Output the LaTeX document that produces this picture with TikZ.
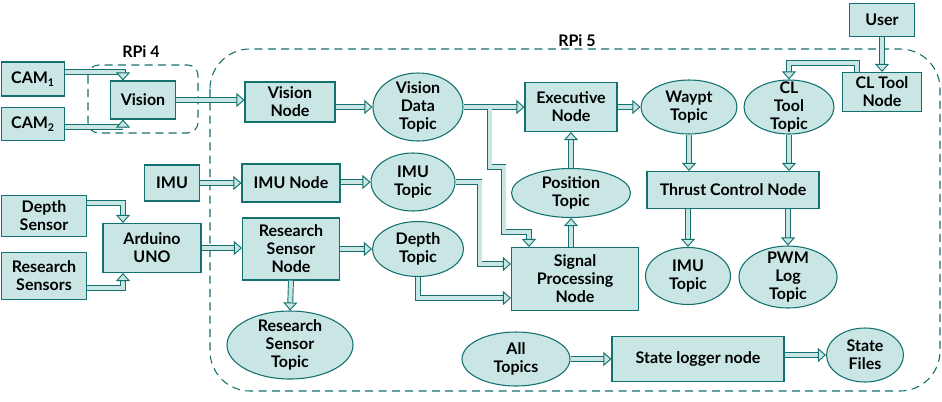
\documentclass[tikz,border=0pt]{standalone}
\usepackage{fontspec}
\setmainfont{Lato}
\usetikzlibrary{arrows.meta,calc,shapes.geometric}
\definecolor{edgec}{RGB}{18,112,110}
\definecolor{boxc}{RGB}{201,230,229}
\tikzset{
  box/.style 2 args={draw=edgec,fill=boxc,line width=0.8pt,align=center,inner sep=0pt,
    minimum width=#1,minimum height=#2},
  topic/.style 2 args={ellipse,draw=edgec,fill=boxc,line width=0.8pt,inner sep=0pt,
    minimum width=#1,minimum height=#2},
  txt/.style={align=center},
  flow/.style={draw=edgec,line width=0.7pt,double=boxc,double distance=3pt,
    -{Triangle[length=6pt,width=10.5pt,fill=boxc]}},
  group/.style={draw=edgec,line width=0.8pt,dash pattern=on 6pt off 4pt},
}
\begin{document}
\begin{tikzpicture}[x=0.75pt,y=-0.75pt,font=\bfseries\fontsize{12}{13.5}\selectfont]
  \useasboundingbox (0,0) rectangle (942,401);
  % the two computers
  \draw[group,rounded corners=30pt] (210,49) rectangle (940,391);
  \draw[group,rounded corners=8pt] (88,65) rectangle (198,133);
  \node (rpi5) at (577,41) {RPi 5};
  \node (rpi4) at (141,52) {RPi 4};
  % sensors and boards
  \node[box={47.25pt}{25.5pt}] (cam1) at (33,79) {CAM\textsubscript{1}};
  \node[box={47.25pt}{24.75pt}] (cam2) at (33,124) {CAM\textsubscript{2}};
  \node[box={48.75pt}{28.5pt}] (vis) at (143,100) {Vision};
  \node[box={41.25pt}{27pt}] (imu) at (172,183) {IMU};
  \node[box={63.75pt}{30.75pt}] (dsens) at (44,216) {Depth\\Sensor};
  \node[box={63.75pt}{35.25pt}] (rsens) at (44,276) {Research\\Sensors};
  \node[box={73.5pt}{36.75pt}] (ard) at (152,248) {Arduino\\UNO};
  % nodes and topics
  \node[box={67.5pt}{30pt}] (visnode) at (290,102) {Vision\\Node};
  \node[topic={67.5pt}{51pt},label={[txt]center:Vision\\Data\\Topic}] (vdt) at (418,107) {};
  \node[box={73.5pt}{28.5pt}] (imunode) at (291,183) {IMU Node};
  \node[topic={63pt}{43.5pt},label={[txt]center:IMU\\Topic}] (imut) at (413,182) {};
  \node[box={72.75pt}{46.5pt}] (rsn) at (291,249) {Research\\Sensor\\Node};
  \node[topic={68.25pt}{41.25pt},label={[txt]center:Depth\\Topic}] (dept) at (418,249) {};
  \node[topic={94.5pt}{51pt},label={[txt]center:Research\\Sensor\\Topic}] (rst) at (290,345) {};
  \node[box={69pt}{36.75pt}] (exec) at (571,107) {Executive\\Node};
  \node[topic={89.25pt}{36.75pt},label={[txt]center:Position\\Topic}] (pos) at (571,193) {};
  \node[box={95.25pt}{47.25pt}] (sig) at (575,279) {Signal\\Processing\\Node};
  \node[topic={72pt}{40.5pt},label={[txt]center:Waypt\\Topic}] (wpt) at (689,107) {};
  \node[topic={67.5pt}{40.5pt},label={[txt]center:CL\\Tool\\Topic}] (clt) at (789,107) {};
  \node[box={59.25pt}{29.25pt}] (cltn) at (882,92) {CL Tool\\Node};
  \node[box={48.75pt}{24.75pt}] (user) at (882,20) {User};
  \node[box={129pt}{27.75pt}] (thr) at (733,190) {Thrust Control Node};
  \node[topic={63.75pt}{42.75pt},label={[txt]center:IMU\\Topic}] (imu2) at (688,276) {};
  \node[topic={73.5pt}{46.5pt},label={[txt]center:PWM\\Log\\Topic}] (pwm) at (788,277) {};
  \node[topic={81pt}{40.5pt},label={[txt]center:All\\Topics}] (all) at (516,359) {};
  \node[box={129pt}{33.75pt}] (log) at (698,359) {State logger node};
  \node[topic={57.75pt}{40.5pt},label={[txt]center:State\\Files}] (files) at (865,355) {};
  % data flow
  \draw[flow] ($(cam1.east)+(0,-7)$) -| ($(vis.north)+(-20,0)$);
  \draw[flow] ($(cam2.east)+(0,3)$) -| ($(vis.south)+(-20,0)$);
  \draw[flow] (vis.east) -- (vis.east -| visnode.west);
  \draw[flow] (visnode.east |- vdt.west) -- (vdt.west);
  \draw[flow] ($(vdt.east)+(26,0)$) -- ++(0,60) -- ++(14,0) -- ++(0,65)
    -| ($(sig.north)+(-46,0)$);
  \draw[flow] (vdt.east) -- (vdt.east -| exec.west);
  \draw[boxc,line width=3pt] ($(vdt.east)+(26,0)$) -- ++(0,5);
  \draw[flow] (imu.east) -- (imu.east -| imunode.west);
  \draw[flow] (imunode.east |- imut.west) -- (imut.west);
  \draw[flow] (imut.east) -- ++(24,0) |- ($(sig.west)+(0,-15)$);
  \draw[flow] ($(dsens.east)+(0,-13)$) -| ($(ard.north)+(-29,0)$);
  \draw[flow] ($(rsens.east)+(0,12)$) -| ($(ard.south)+(-29,0)$);
  \draw[flow] (ard.east) -- (ard.east -| rsn.west);
  \draw[flow] (rsn.east |- dept.west) -- (dept.west);
  \draw[flow] (rsn.south) -- (rst.north);
  \draw[flow] (dept.south) |- ($(sig.west)+(0,19)$);
  \draw[flow] (pos.south |- sig.north) -- (pos.south);
  \draw[flow] (pos.north) -- (pos.north |- exec.south);
  \draw[flow] (exec.east |- wpt.west) -- (wpt.west);
  \draw[flow] (wpt.south) -- (wpt.south |- thr.north);
  \draw[flow] (clt.south) -- (clt.south |- thr.north);
  \draw[flow] (imu2.north |- thr.south) -- (imu2.north);
  \draw[flow] (pwm.north |- thr.south) -- (pwm.north);
  \draw[flow] (user.south) -- (cltn.north);
  \draw[flow] ($(cltn.north)+(-25,0)$) -- ++(0,-9) -| (clt.north);
  \draw[flow] (all.east) -- (all.east -| log.west);
  \draw[flow] (log.east |- files.west) -- (files.west);
\end{tikzpicture}
\end{document}
